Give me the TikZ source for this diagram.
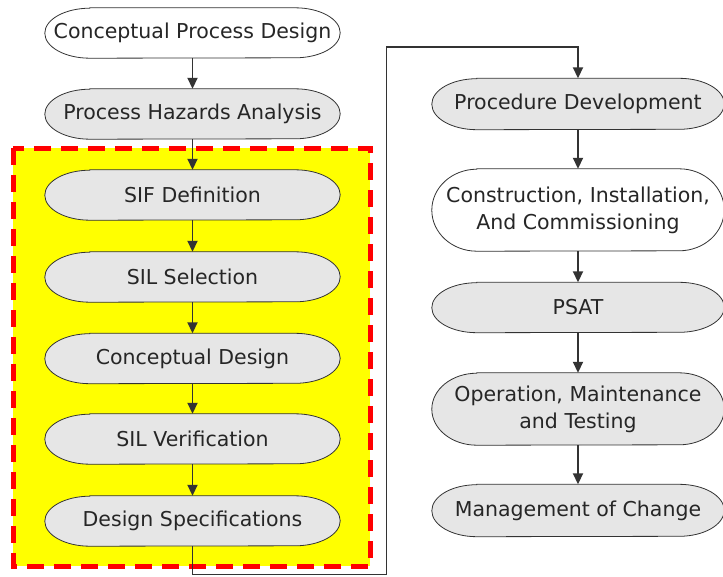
\documentclass[tikz,border=0pt]{standalone}
\usepackage{fontspec}
\setmainfont{DejaVu Sans}
\usetikzlibrary{arrows.meta,backgrounds}
\definecolor{pillgray}{HTML}{E6E6E6}
\definecolor{linegray}{HTML}{333333}
\definecolor{zoneyellow}{RGB}{255,255,0}
\definecolor{zonered}{RGB}{255,0,0}
\newcommand\pillshape[3]{%
  \path[#2] ([xshift=45pt]#1.north west) -- ([xshift=-45pt]#1.north east)
    arc[start angle=90,end angle=-90,x radius=45pt,y radius=#3]
    -- ([xshift=45pt]#1.south west)
    arc[start angle=270,end angle=90,x radius=45pt,y radius=#3] -- cycle;}
\begin{document}
\begin{tikzpicture}[x=1pt,y=1pt,
  lbl/.style={inner sep=0pt, text=black!85, font=\fontsize{20.5}{27}\selectfont, align=center},
  lpill/.style={lbl, minimum width=295pt, minimum height=50pt},
  rpill/.style={lbl, minimum width=292pt},
  conn/.style={draw=linegray, line width=1.8pt},
  arr/.style={conn, -{Triangle[length=11pt,width=10pt]}},
  pillg/.style={fill=pillgray, draw=linegray, line width=0.8pt},
  pillw/.style={fill=white, draw=linegray, line width=0.8pt},
  zone/.style={fill=zoneyellow, draw=zonered, line width=5pt, dash pattern=on 17pt off 10pt}]
\path[use as bounding box] (0,0) rectangle (723,-576);
% nodes
\node[lpill] (cpd) at (192.5,-33) {Conceptual Process Design};
\node[lpill] (pha) at (192.5,-114) {Process Hazards Analysis};
\node[lpill] (sif) at (192.5,-195) {SIF Definition};
\node[lpill] (sils) at (192.5,-277) {SIL Selection};
\node[lpill] (cd) at (192.5,-358.5) {Conceptual Design};
\node[lpill] (silv) at (192.5,-439) {SIL Verification};
\node[lpill] (ds) at (192.5,-521) {Design Specifications};
\node[rpill, minimum height=51pt] (pd) at (578,-104) {Procedure Development};
\node[rpill, minimum height=82pt] (cic) at (578,-210) {Construction, Installation,\\And Commissioning};
\node[rpill, minimum height=50pt] (psat) at (578,-307.5) {PSAT};
\node[rpill, minimum height=72pt] (omt) at (578,-409) {Operation, Maintenance\\and Testing};
\node[rpill, minimum height=52pt] (moc) at (578,-510.5) {Management of Change};
\begin{scope}[on background layer]
  \fill[white] (0,0) rectangle (723,-576);
  \path[zone] (13,-148) rectangle (370,-566);
  \pillshape{cpd}{pillw}{25pt}
  \pillshape{pha}{pillg}{25pt}
  \pillshape{sif}{pillg}{25pt}
  \pillshape{sils}{pillg}{25pt}
  \pillshape{cd}{pillg}{25pt}
  \pillshape{silv}{pillg}{25pt}
  \pillshape{ds}{pillg}{25pt}
  \pillshape{pd}{pillg}{25.5pt}
  \pillshape{cic}{pillw}{41pt}
  \pillshape{psat}{pillg}{25pt}
  \pillshape{omt}{pillg}{36pt}
  \pillshape{moc}{pillg}{26pt}
\end{scope}
% connectors
\draw[arr] (cpd) -- (pha);
\draw[arr] (pha) -- (sif);
\draw[arr] (sif) -- (sils);
\draw[arr] (sils) -- (cd);
\draw[arr] (cd) -- (silv);
\draw[arr] (silv) -- (ds);
\coordinate (c1) at (192.5,-574.5);
\coordinate (c2) at (386.5,-574.5);
\coordinate (c3) at (386.5,-47);
\coordinate (c4) at (578,-47);
\draw[arr] (ds.south) -- (c1) -- (c2) -- (c3) -- (c4) -- (pd.north);
\draw[arr] (pd) -- (cic);
\draw[arr] (cic) -- (psat);
\draw[arr] (psat) -- (omt);
\draw[arr] (omt) -- (moc);
\end{tikzpicture}
\end{document}
